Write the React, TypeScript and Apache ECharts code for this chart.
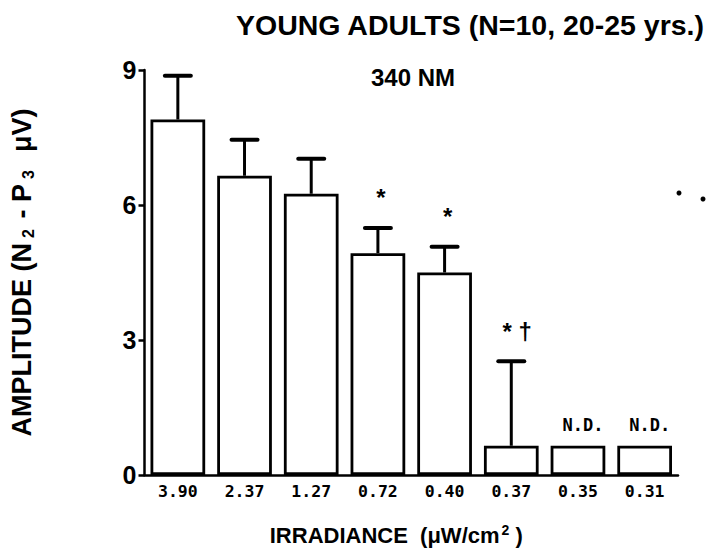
import React, { useEffect, useRef } from "react";
import * as echarts from "echarts";

const categories = ["3.90", "2.37", "1.27", "0.72", "0.40", "0.37", "0.35", "0.31"];
const amplitudes = [7.9, 6.65, 6.25, 4.93, 4.5, 0.65, 0.65, 0.65];
const errors = [0.97, 0.8, 0.78, 0.56, 0.57, 1.88, 0, 0];
const annotations = ["", "", "", "*", "*", "* †", "N.D.", "N.D."];
const titleText = "YOUNG ADULTS (N=10, 20-25 yrs.)";
const subtitleText = "340 NM";

const FONT = "'Liberation Sans', Arial, sans-serif";
const MONO = "'DejaVu Sans Mono', monospace";

export default function App() {
  const ref = useRef<HTMLDivElement>(null);
  useEffect(() => {
    if (!ref.current) return;
    const chart = echarts.init(ref.current, undefined, { renderer: "svg" });
    chart.setOption({
      animation: false,
      backgroundColor: "#fff",
      title: [
        {
          text: titleText,
          left: 231,
          top: 5,
          textStyle: { fontFamily: FONT, fontWeight: "bold", fontSize: 28.5, color: "#000" },
        },
        {
          text: subtitleText,
          left: 366,
          top: 60,
          textStyle: { fontFamily: FONT, fontWeight: "bold", fontSize: 24, color: "#000" },
        },
      ],
      grid: { left: 140, right: 38, top: 70, bottom: 74 },
      xAxis: {
        type: "category",
        data: categories,
        name: "{a|IRRADIANCE  (μW/cm}{s|2}{a| )}",
        nameLocation: "middle",
        nameGap: 48,
        nameTextStyle: {
          padding: [0, 30, 0, 0],
          rich: {
            a: { fontFamily: FONT, fontWeight: "bold", fontSize: 22, color: "#000" },
            s: { fontFamily: FONT, fontWeight: "bold", fontSize: 14, color: "#000", padding: [0, 0, 10, 2] },
          },
        },
        axisLine: { lineStyle: { color: "#000", width: 2.5 } },
        axisTick: { show: false },
        axisLabel: {
          fontFamily: MONO,
          fontWeight: "bold",
          fontSize: 16.5,
          color: "#000",
          margin: 8,
        },
      },
      yAxis: {
        type: "value",
        min: 0,
        max: 9,
        interval: 3,
        name: "{a|AMPLITUDE (N}{s|2}{a| - P}{s|3}{a|  μV)}",
        nameLocation: "middle",
        nameRotate: 90,
        nameGap: 108,
        nameTextStyle: {
          rich: {
            a: { fontFamily: FONT, fontWeight: "bold", fontSize: 27, color: "#000" },
            s: { fontFamily: FONT, fontWeight: "bold", fontSize: 16, color: "#000", padding: [14, 3, 0, 5] },
          },
        },
        axisLine: { show: true, lineStyle: { color: "#000", width: 2.5 } },
        axisTick: { show: true, length: 6, lineStyle: { color: "#000", width: 2.5 } },
        splitLine: { show: false },
        axisLabel: {
          fontFamily: FONT,
          fontWeight: "bold",
          fontSize: 25,
          color: "#000",
          margin: 8,
        },
      },
      series: [
        {
          type: "bar",
          data: amplitudes,
          barCategoryGap: "18%",
          itemStyle: { color: "#fff", borderColor: "#000", borderWidth: 2.8 },
          z: 2,
        },
        {
          type: "custom",
          z: 3,
          data: categories.map((c, i) => [i, amplitudes[i], errors[i]]),
          encode: { x: 0, y: 1 },
          renderItem: (params: any, api: any) => {
            const i = params.dataIndex;
            const v = api.value(1);
            const e = api.value(2);
            const base = api.coord([i, v]);
            const top = api.coord([i, v + e]);
            const children: any[] = [];
            if (e > 0) {
              children.push({
                type: "line",
                shape: { x1: base[0], y1: base[1], x2: top[0], y2: top[1] },
                style: { stroke: "#000", lineWidth: 3 },
              });
              children.push({
                type: "line",
                shape: { x1: top[0] - 13, y1: top[1], x2: top[0] + 13, y2: top[1] },
                style: { stroke: "#000", lineWidth: 4, lineCap: "round" },
              });
            }
            const ann = annotations[i];
            if (ann) {
              const nd = ann === "N.D.";
              const y = e > 0 ? top[1] - 30 : base[1] - 21;
              children.push({
                type: "text",
                x: base[0] + (nd ? 5 : ann.length > 1 ? 6 : 3),
                y,
                style: {
                  text: ann,
                  fill: "#000",
                  fontFamily: nd ? MONO : FONT,
                  fontWeight: "bold",
                  fontSize: nd ? 17 : 24,
                  align: "center",
                  verticalAlign: "middle",
                },
              });
            }
            return { type: "group", children };
          },
        },
      ],
      graphic: [
        { type: "circle", shape: { cx: 679, cy: 193, r: 2.5 }, style: { fill: "#000" } },
        { type: "circle", shape: { cx: 703, cy: 199, r: 2.5 }, style: { fill: "#000" } },
      ],
    });
    return () => chart.dispose();
  }, []);
  return (
    <div
      ref={ref}
      style={{ position: "fixed", left: 0, top: 0, width: 716, height: 551, background: "#fff" }}
    />
  );
}
